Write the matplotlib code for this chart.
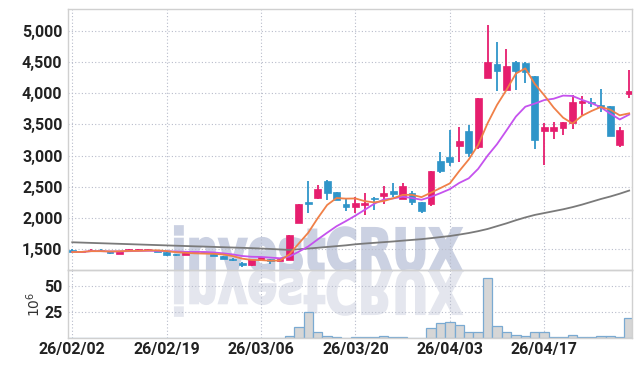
import numpy as np
import pandas as pd
import matplotlib
matplotlib.use("Agg")
import matplotlib.pyplot as plt
from matplotlib.textpath import TextPath
from matplotlib.font_manager import FontProperties
from matplotlib.patches import PathPatch
from matplotlib.transforms import Affine2D, IdentityTransform

# ---------------- data ----------------
opens = [1490, 1455, 1470, 1490, 1475, 1430, 1488, 1492, 1492, 1485,
         1460, 1412, 1415, 1445, 1445, 1430, 1390, 1350, 1280, 1245,
         1335, 1345, 1310, 1330, 1920, 2255, 2320, 2600, 2410, 2225,
         2170, 2215, 2320, 2360, 2440, 2310, 2400, 2255, 2225, 2920,
         2970, 3160, 3395, 3130, 4250, 4470, 4045, 4505, 4490, 4270,
         3400, 3390, 3450, 3530, 3850, 3865, 3810, 3795, 3175, 3980]
highs = [1500, 1465, 1505, 1500, 1480, 1470, 1500, 1502, 1502, 1490,
         1465, 1420, 1455, 1455, 1450, 1435, 1395, 1360, 1290, 1345,
         1375, 1350, 1345, 1730, 2225, 2590, 2530, 2605, 2420, 2300,
         2335, 2400, 2345, 2515, 2560, 2555, 2440, 2260, 2760, 3055,
         3410, 3465, 3490, 3925, 5090, 4825, 4705, 4510, 4495, 4275,
         3520, 3545, 3545, 3970, 3960, 3920, 4060, 3800, 3455, 4365]
lows = [1445, 1445, 1460, 1465, 1420, 1425, 1480, 1488, 1488, 1455,
        1400, 1395, 1410, 1440, 1430, 1385, 1345, 1320, 1220, 1240,
        1330, 1265, 1305, 1325, 1915, 2080, 2300, 2290, 2290, 2120,
        2075, 2050, 2130, 2220, 2335, 2300, 2210, 2080, 2200, 2715,
        2835, 2905, 2985, 3105, 4240, 4035, 4040, 4045, 4160, 3110,
        2850, 3265, 3335, 3430, 3655, 3775, 3700, 3315, 3145, 3920]
closes = [1455, 1460, 1495, 1470, 1445, 1468, 1495, 1497, 1497, 1460,
          1405, 1408, 1450, 1450, 1440, 1390, 1350, 1325, 1245, 1340,
          1370, 1305, 1340, 1730, 2220, 2230, 2465, 2400, 2290, 2170,
          2245, 2245, 2305, 2400, 2390, 2515, 2250, 2120, 2755, 2760,
          2890, 3240, 3040, 3920, 4500, 4360, 4440, 4350, 4335, 3255,
          3455, 3455, 3540, 3860, 3880, 3835, 3780, 3320, 3410, 4040]
volumes = [0, 0, 0, 0, 0, 0, 0, 0, 0, 0,
           0, 0, 0, 0, 0, 0, 0, 0, 0, 0,
           0, 0, 0, 2.3, 10.2, 25.0, 6.2, 2.3, 1.3, 0.3,
           1.3, 1.3, 1.3, 2.3, 1.3, 1.3, 0.3, 0.3, 9.2, 14.1,
           15.1, 12.2, 5.3, 6.2, 57.6, 11.2, 6.2, 3.3, 2.3, 6.2,
           5.3, 1.3, 1.3, 3.3, 1.3, 1.3, 2.3, 2.3, 1.3, 19.0]
ma60 = [1612, 1607, 1602, 1597, 1592, 1587, 1582, 1577, 1572, 1567,
        1562, 1557, 1552, 1547, 1543, 1538, 1533, 1528, 1523, 1518,
        1512, 1505, 1497, 1490, 1500, 1512, 1524, 1537, 1550, 1563,
        1580, 1592, 1603, 1614, 1625, 1638, 1650, 1662, 1678, 1695,
        1712, 1735, 1760, 1790, 1825, 1870, 1915, 1965, 2010, 2050,
        2080, 2110, 2140, 2175, 2215, 2260, 2305, 2345, 2390, 2440]
tick_pos = [0, 10, 20, 30, 40, 50]
tick_labels = ["26/02/02", "26/02/19", "26/03/06", "26/03/20", "26/04/03", "26/04/17"]
price_ticks = [1500, 2000, 2500, 3000, 3500, 4000, 4500, 5000]
vol_ticks = [25, 50]

# ---------------- style ----------------
UP = "#e61e6e"
DOWN = "#2f95c9"
MA5_C = "#f08048"
MA10_C = "#c552ee"
MA60_C = "#7a7a7a"
GRID = "#b8bccb"
SPINE = "#d0d0d0"
TICK_FP = FontProperties(family=["Roboto", "DejaVu Sans"], weight="bold", size=11.5)

df = pd.DataFrame({"o": opens, "h": highs, "l": lows, "c": closes, "v": volumes})
df["ma5"] = df["c"].rolling(5, min_periods=1).mean()
df["ma10"] = df["c"].rolling(10, min_periods=1).mean()
x = np.arange(len(df))

fig = plt.figure(figsize=(6.42, 3.66), dpi=100)
ax = fig.add_axes([68 / 642, 96 / 366, 564 / 642, 261 / 366])
axv = fig.add_axes([68 / 642, 28 / 366, 564 / 642, 68 / 366], sharex=ax)
for a in (ax, axv):
    a.set_facecolor("none")
    for s in a.spines.values():
        s.set_color(SPINE)
        s.set_linewidth(1.0)
    a.grid(True, linestyle=(0, (1, 2)), color=GRID, linewidth=0.8)
    a.set_axisbelow(True)
    a.tick_params(length=0, colors="#222222")

# watermark (with reflection) behind everything
fp = FontProperties(family="DejaVu Sans", weight="bold")
tp = TextPath((0, 0), "investCRUX", size=1, prop=fp)
ext = tp.get_extents()
sx = 287 / ext.width
sy = 43 / 0.729
base_y = 366 - 271
t_top = Affine2D().translate(-ext.x0, 0).scale(sx, sy).translate(175, base_y) + IdentityTransform()
t_bot = Affine2D().translate(-ext.x0, 0).scale(sx, -sy).translate(175, base_y) + IdentityTransform()
fig.patches.append(PathPatch(tp, transform=t_top, facecolor="#cbd1e2", edgecolor="#cbd1e2",
                             linewidth=1.5, zorder=-5))
fig.patches.append(PathPatch(tp, transform=t_bot, facecolor="#e4e6ee", edgecolor="#e4e6ee",
                             linewidth=1.5, zorder=-5))

# candles
up = df["c"] >= df["o"]
colors = np.where(up, UP, DOWN)
body_bottom = np.minimum(df["o"], df["c"])
body_h = np.maximum(np.abs(df["c"] - df["o"]), 14)
ax.vlines(x, df["l"], df["h"], colors=colors, linewidth=1.3, zorder=3)
ax.bar(x, body_h, bottom=body_bottom, width=0.72, color=colors, edgecolor=colors, linewidth=0.5, zorder=4)

# moving averages
ax.plot(x, ma60, color=MA60_C, linewidth=1.3, zorder=5)
ax.plot(x, df["ma10"], color=MA10_C, linewidth=1.3, zorder=5)
ax.plot(x, df["ma5"], color=MA5_C, linewidth=1.3, zorder=5)

ax.set_ylim(1168, 5348)
ax.set_yticks(price_ticks)
ax.set_yticklabels([f"{v:,}" for v in price_ticks], fontproperties=TICK_FP)
ax.set_xlim(-0.45, 59.3)
ax.set_xticks(tick_pos)
ax.tick_params(axis="x", labelbottom=False)
ax.tick_params(axis="y", pad=4)

# volume
axv.bar(x, df["v"], width=1.0, color="#d6d6d6", edgecolor="#7aaad2", linewidth=0.9, zorder=2)
axv.set_ylim(0, 65.5)
axv.set_yticks(vol_ticks)
axv.set_yticklabels([str(v) for v in vol_ticks], fontproperties=TICK_FP)
axv.set_xticks(tick_pos)
axv.set_xticklabels(tick_labels, fontproperties=TICK_FP)
axv.tick_params(axis="x", pad=3)
axv.tick_params(axis="y", pad=4)
axv.set_ylabel(r"$10^6$", fontsize=10, color="#333333", labelpad=1)

fig.savefig("out.png", dpi=100)
